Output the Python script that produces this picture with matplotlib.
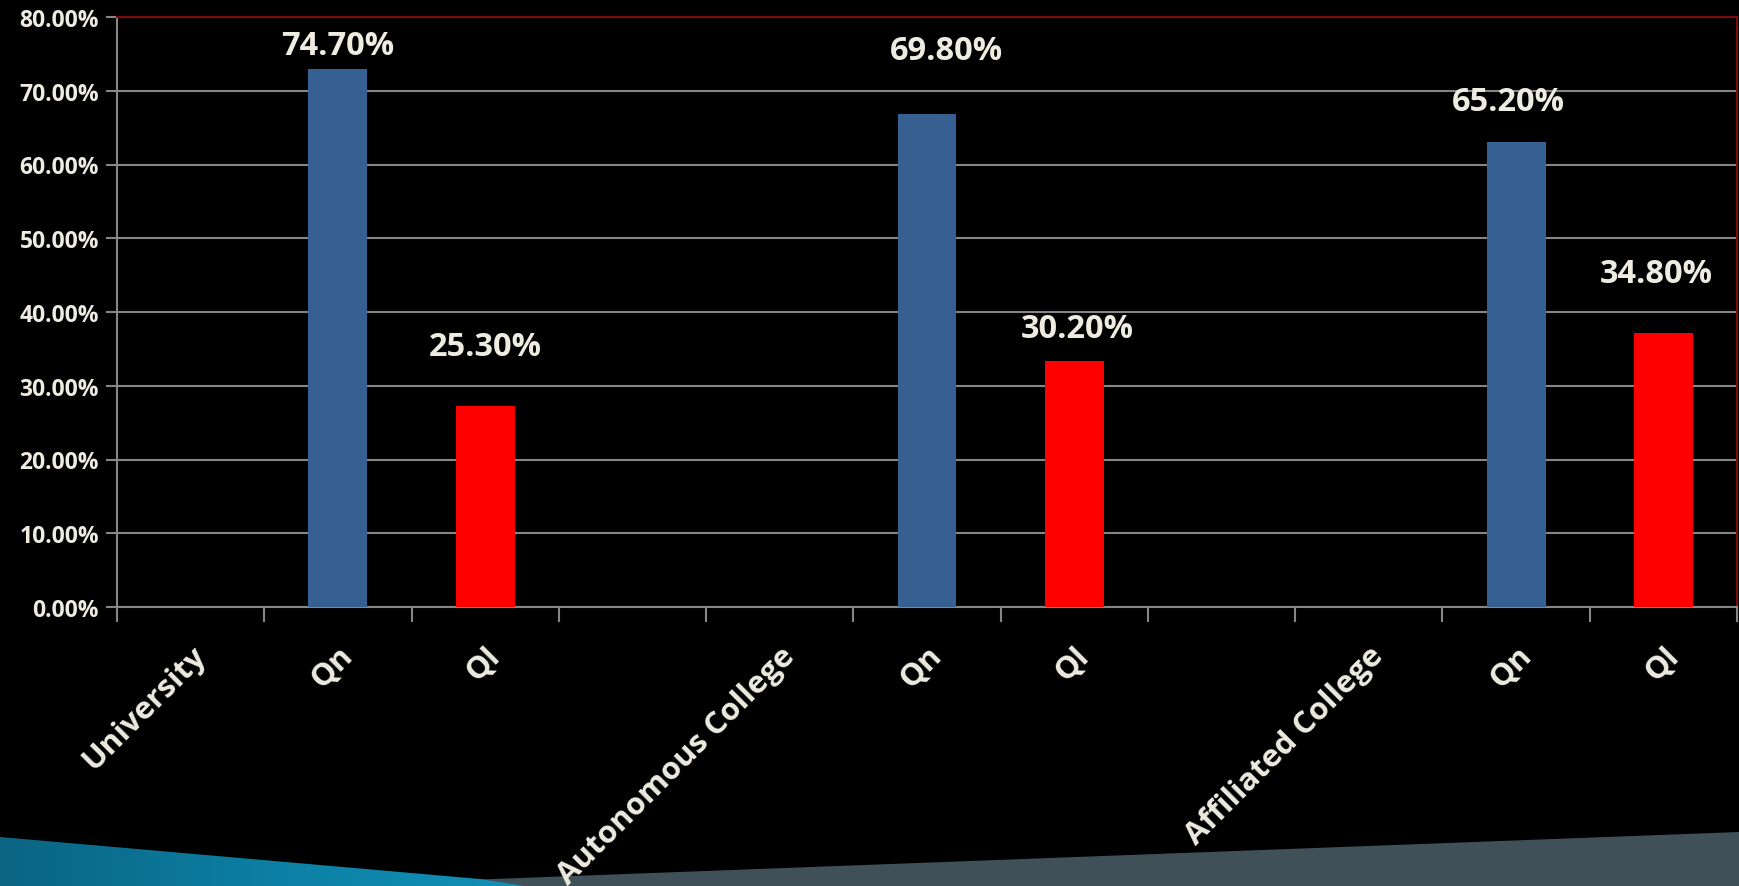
import numpy as np
import matplotlib
matplotlib.use("Agg")
import matplotlib.pyplot as plt
from matplotlib.patches import Polygon

# categories along the x axis (blank slots separate the groups)
categories = ["University", "Qn", "Ql", "", "Autonomous College", "Qn", "Ql", "",
              "Affiliated College", "Qn", "Ql"]

# bar heights as drawn (percent) and the typed data labels
qn_values = [72.9, 66.9, 63.0]
ql_values = [27.2, 33.4, 37.1]
qn_labels = ["74.70%", "69.80%", "65.20%"]
ql_labels = ["25.30%", "30.20%", "34.80%"]

# where the labels sit on the value axis
qn_label_y = [76.1, 75.4, 68.5]
ql_label_y = [35.3, 37.7, 45.2]
qn_label_dx = [0.0, 0.13, -0.05]
ql_label_dx = [0.0, 0.02, -0.05]

yticks = [0, 10, 20, 30, 40, 50, 60, 70, 80]

txt = "#EEECE1"
blue = "#376092"
red = "#FF0000"
grid = "#868686"
border = "#7F0A0A"

plt.rcParams["font.family"] = ["Open Sans", "DejaVu Sans"]
plt.rcParams["font.weight"] = "bold"

W, H = 1739, 887
fig = plt.figure(figsize=(W / 100, H / 100), dpi=100, facecolor="black")

# background decoration at the bottom of the slide
bg = fig.add_axes([0, 0, 1, 1], zorder=0)
bg.set_xlim(0, W)
bg.set_ylim(H, 0)
bg.axis("off")
bg.add_patch(Polygon([(440, 882), (W, 833), (W, H), (440, H)], closed=True,
                     facecolor="#3F5058", edgecolor="none", zorder=1))
teal = Polygon([(0, 838), (480, 880), (525, H), (0, H)], closed=True,
               facecolor="none", edgecolor="none")
bg.add_patch(teal)
grad = np.linspace(0, 1, 256).reshape(1, -1)
cmap = matplotlib.colors.LinearSegmentedColormap.from_list("t", ["#0A6482", "#0C7FA3", "#1290B8"])
im = bg.imshow(grad, extent=[0, 525, H, 835], cmap=cmap, aspect="auto", zorder=2)
im.set_clip_path(teal)

ax = fig.add_axes([117 / W, 1 - 608 / H, (1737 - 117) / W, (608 - 18) / H], zorder=1)
ax.set_facecolor("black")

x = np.arange(len(categories))
qn_x = [i for i, c in enumerate(categories) if c == "Qn"]
ql_x = [i for i, c in enumerate(categories) if c == "Ql"]

ax.bar(qn_x, qn_values, width=0.4, color=blue, zorder=3)
ax.bar(ql_x, ql_values, width=0.4, color=red, zorder=3)

for xi, dx, ly, lab in zip(qn_x, qn_label_dx, qn_label_y, qn_labels):
    ax.text(xi + dx, ly, lab, ha="center", va="center", color=txt, fontsize=23.5, fontweight="bold")
for xi, dx, ly, lab in zip(ql_x, ql_label_dx, ql_label_y, ql_labels):
    ax.text(xi + dx, ly, lab, ha="center", va="center", color=txt, fontsize=23.5, fontweight="bold")

ax.set_xlim(-0.5, len(categories) - 0.5)
ax.set_ylim(0, 80)
ax.set_yticks(yticks)
ax.set_yticklabels(["%.2f%%" % v for v in yticks], color=txt, fontsize=16.5, fontweight="bold")
ax.yaxis.grid(True, color=grid, linewidth=1.5, zorder=0)
ax.set_axisbelow(True)
ax.tick_params(axis="y", length=8, width=1.5, color=grid, pad=5)

ax.set_xticks(x)
ax.set_xticklabels(categories, rotation=45, ha="right", rotation_mode="anchor",
                   color=txt, fontsize=22.5, fontweight="bold")
ax.tick_params(axis="x", which="major", length=0, pad=24)
ax.set_xticks(np.arange(-0.5, len(categories)), minor=True)
ax.tick_params(axis="x", which="minor", length=11, width=1.5, color=grid)

for s in ["left", "bottom"]:
    ax.spines[s].set_color(grid)
    ax.spines[s].set_linewidth(1.5)
for s in ["top", "right"]:
    ax.spines[s].set_color(border)
    ax.spines[s].set_linewidth(1.5)

fig.savefig("out.png", dpi=100, facecolor="black")
